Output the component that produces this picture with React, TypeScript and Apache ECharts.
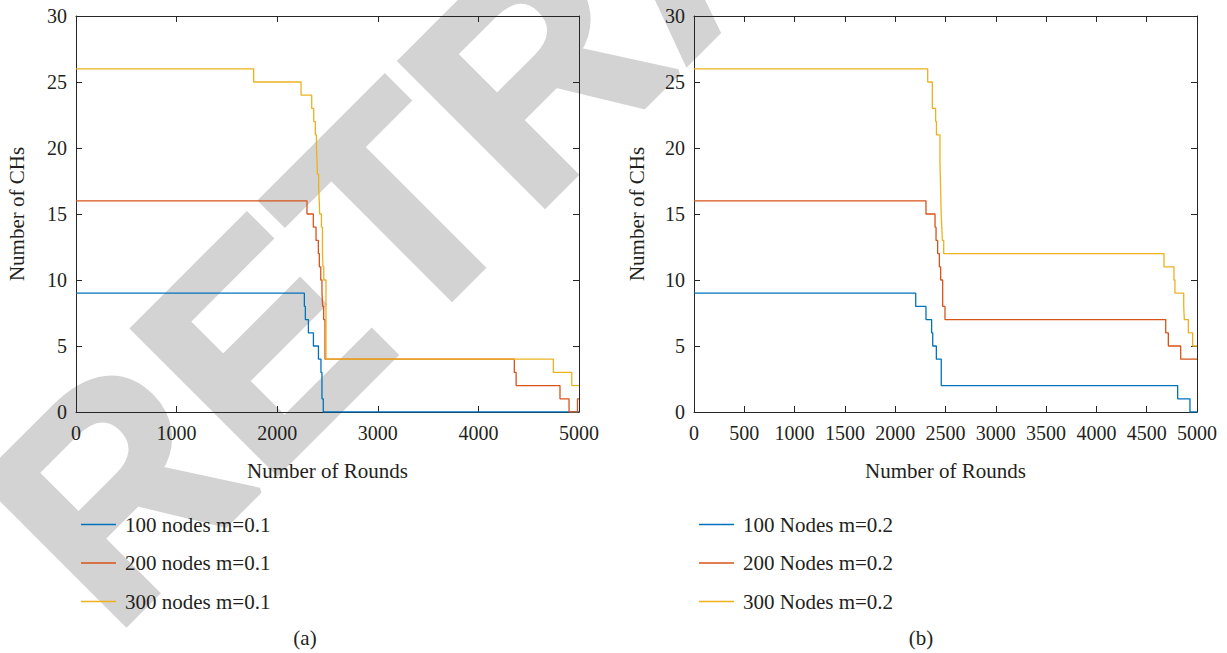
import React, { useEffect, useRef } from "react";
import * as echarts from "echarts";

// ---- Panel (a) data: step points (round at which the count changes, new count) ----
const a100Rounds = [0, 2270, 2280, 2310, 2360, 2410, 2435, 2445, 2458, 5000];
const a100CHs = [9, 8, 7, 6, 5, 4, 3, 1, 0, 0];
const a200Rounds = [0, 2296, 2359, 2386, 2409, 2419, 2433, 2445, 2452, 2462, 2475, 4357, 4375, 4811, 4901, 4985, 5000];
const a200CHs = [16, 15, 14, 13, 12, 11, 10, 9, 8, 7, 4, 3, 2, 1, 0, 1, 1];
const a300Rounds = [0, 1766, 2237, 2343, 2363, 2379, 2390, 2396, 2400, 2412, 2418, 2422, 2440, 2450, 2455, 2463, 2485, 4745, 4928, 5000];
const a300CHs = [26, 25, 24, 23, 22, 21, 20, 19, 18, 17, 16, 15, 14, 12, 11, 10, 4, 3, 2, 2];

// ---- Panel (b) data ----
const b100Rounds = [0, 2204, 2306, 2362, 2373, 2409, 2458, 4808, 4930, 5000];
const b100CHs = [9, 8, 7, 6, 5, 4, 2, 1, 0, 0];
const b200Rounds = [0, 2306, 2396, 2406, 2422, 2439, 2452, 2472, 2495, 4689, 4715, 4838, 5000];
const b200CHs = [16, 15, 14, 13, 12, 11, 10, 8, 7, 6, 5, 4, 4];
const b300Rounds = [0, 2323, 2369, 2402, 2410, 2445, 2451, 2457, 2463, 2469, 2482, 4672, 4771, 4781, 4868, 4874, 4914, 4957, 5000];
const b300CHs = [26, 25, 23, 22, 21, 19, 17, 15, 14, 13, 12, 11, 10, 9, 8, 7, 6, 5, 5];

const namesA = ["100 nodes m=0.1", "200 nodes m=0.1", "300 nodes m=0.1"];
const namesB = ["100 Nodes m=0.2", "200 Nodes m=0.2", "300 Nodes m=0.2"];
const xTitle = "Number of Rounds";
const yTitle = "Number of CHs";
const captions = ["(a)", "(b)"];
const watermark = "RETRACTED";

const colors = ["#0072BD", "#D95319", "#EDB120"];
const FONT = "'Liberation Serif', 'Times New Roman', serif";
const INK = "#231f20";
const AXIS = "#262626";

const zip = (xs: number[], ys: number[]) => xs.map((x, i) => [x, ys[i]]);

export default function App() {
  const ref = useRef<HTMLDivElement>(null);
  useEffect(() => {
    if (!ref.current) return;
    const chart = echarts.init(ref.current, undefined, { renderer: "svg" });

    const grids = [
      { left: 76, top: 16, width: 503, height: 396 },
      { left: 694, top: 16, width: 503, height: 396 },
    ];
    const xIntervals = [1000, 500];
    const yNameGaps = [49, 47];
    const plain = (v: number) => String(v);

    const xAxes: any[] = [];
    const yAxes: any[] = [];
    [0, 1].forEach((g) => {
      xAxes.push({
        type: "value", gridIndex: g, position: "bottom", min: 0, max: 5000, interval: xIntervals[g],
        name: xTitle, nameLocation: "middle", nameGap: 48,
        nameTextStyle: { fontFamily: FONT, fontSize: 21, color: INK },
        axisLine: { show: true, onZero: false, lineStyle: { color: AXIS, width: 1 } },
        axisTick: { show: true, inside: true, length: 6, lineStyle: { color: AXIS } },
        axisLabel: { fontFamily: FONT, fontSize: 20, color: INK, margin: 11, formatter: plain },
        splitLine: { show: false },
      });
      xAxes.push({
        type: "value", gridIndex: g, position: "top", min: 0, max: 5000, interval: xIntervals[g],
        axisLine: { show: true, onZero: false, lineStyle: { color: AXIS, width: 1 } },
        axisTick: { show: true, inside: true, length: 6, lineStyle: { color: AXIS } },
        axisLabel: { show: false },
        splitLine: { show: false },
      });
      yAxes.push({
        type: "value", gridIndex: g, position: "left", min: 0, max: 30, interval: 5,
        name: yTitle, nameLocation: "middle", nameGap: yNameGaps[g],
        nameTextStyle: { fontFamily: FONT, fontSize: 21, color: INK },
        axisLine: { show: true, onZero: false, lineStyle: { color: AXIS, width: 1 } },
        axisTick: { show: true, inside: true, length: 6, lineStyle: { color: AXIS } },
        axisLabel: { fontFamily: FONT, fontSize: 20, color: INK, margin: 9, formatter: plain },
        splitLine: { show: false },
      });
      yAxes.push({
        type: "value", gridIndex: g, position: "right", min: 0, max: 30, interval: 5,
        axisLine: { show: true, onZero: false, lineStyle: { color: AXIS, width: 1 } },
        axisTick: { show: true, inside: true, length: 6, lineStyle: { color: AXIS } },
        axisLabel: { show: false },
        splitLine: { show: false },
      });
    });

    const mk = (name: string, data: number[][], g: number, c: string) => ({
      type: "line", name, data, step: "end", symbol: "none", showSymbol: false,
      xAxisIndex: g * 2, yAxisIndex: g * 2,
      lineStyle: { color: c, width: 1.3 }, itemStyle: { color: c }, z: 3,
    });

    const series = [
      mk(namesA[0], zip(a100Rounds, a100CHs), 0, colors[0]),
      mk(namesA[1], zip(a200Rounds, a200CHs), 0, colors[1]),
      mk(namesA[2], zip(a300Rounds, a300CHs), 0, colors[2]),
      mk(namesB[0], zip(b100Rounds, b100CHs), 1, colors[0]),
      mk(namesB[1], zip(b200Rounds, b200CHs), 1, colors[1]),
      mk(namesB[2], zip(b300Rounds, b300CHs), 1, colors[2]),
    ];

    const legendBase = {
      orient: "vertical", top: 509, icon: "rect", itemWidth: 35, itemHeight: 1.5, itemGap: 17.5,
      textStyle: { fontFamily: FONT, fontSize: 21, color: INK, padding: [0, 0, 0, 4], lineHeight: 20 },
    };

    chart.setOption({
      animation: false,
      backgroundColor: "#ffffff",
      grid: grids,
      xAxis: xAxes,
      yAxis: yAxes,
      legend: [
        { ...legendBase, left: 76, data: namesA },
        { ...legendBase, left: 694, data: namesB },
      ],
      series,
      graphic: [
        {
          type: "text", x: 40, y: 565, rotation: Math.PI / 4, z: -100, silent: true,
          style: {
            text: watermark, fontSize: 296, fontWeight: "bold",
            fontFamily: "'Liberation Sans', Arial, sans-serif", fill: "#d3d3d3",
            stroke: "#d3d3d3", lineWidth: 6,
            align: "left", verticalAlign: "middle",
          },
        },
        {
          type: "text", x: 305, y: 638, z: 10,
          style: { text: captions[0], fontSize: 21, fontFamily: FONT, fill: INK, align: "center", verticalAlign: "middle" },
        },
        {
          type: "text", x: 921, y: 638, z: 10,
          style: { text: captions[1], fontSize: 21, fontFamily: FONT, fill: INK, align: "center", verticalAlign: "middle" },
        },
      ],
    });
    return () => chart.dispose();
  }, []);
  return <div ref={ref} style={{ width: 1227, height: 653, position: "absolute", left: 0, top: 0 }} />;
}
